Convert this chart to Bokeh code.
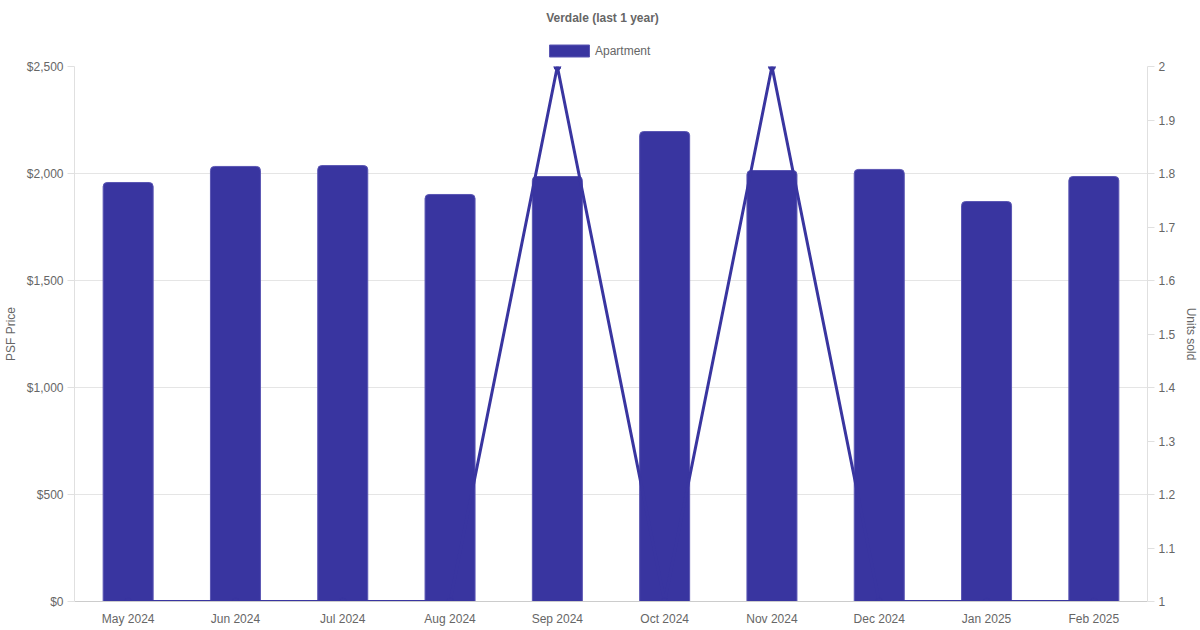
from bokeh.plotting import figure
from bokeh.models import (Range1d, LinearAxis, FixedTicker, Legend, LegendItem,
                          ColumnDataSource, FactorRange)
from bokeh.layouts import column
from bokeh.embed import file_html
from bokeh.resources import INLINE

# ---- data ----
months = ["May 2024", "Jun 2024", "Jul 2024", "Aug 2024", "Sep 2024",
          "Oct 2024", "Nov 2024", "Dec 2024", "Jan 2025", "Feb 2025"]
psf_price = [1958, 2033, 2037, 1902, 1986, 2196, 2014, 2019, 1869, 1986]
units_sold = [1, 1, 1, 1, 2, 1, 2, 1, 1, 1]

price_ticks = [0, 500, 1000, 1500, 2000, 2500]
price_tick_labels = ["$0", "$500", "$1,000", "$1,500", "$2,000", "$2,500"]
unit_ticks = [1, 1.1, 1.2, 1.3, 1.4, 1.5, 1.6, 1.7, 1.8, 1.9, 2]
unit_tick_labels = ["1", "1.1", "1.2", "1.3", "1.4", "1.5", "1.6", "1.7", "1.8", "1.9", "2"]

title_text = "Verdale (last 1 year)"
series_name = "Apartment"

COLOR = "#3935A0"
EDGE = "#5a56b3"
TEXT = "#666666"
FONT = "Liberation Sans"

TOTAL_W = 1184
LEFT_B = 66
RIGHT_B = 45
FRAME_W = TOTAL_W - LEFT_B - RIGHT_B
FRAME_H = 535

# ---------------- header (title + legend) ----------------
hdr = figure(width=TOTAL_W, height=58, output_backend="svg",
             toolbar_location=None, x_range=Range1d(0, 1), y_range=Range1d(0, 1),
             min_border=0, min_border_top=25)
hdr.axis.visible = False
hdr.grid.grid_line_color = None
hdr.outline_line_color = None
hdr.title.text = title_text
hdr.title.align = "center"
hdr.title.vertical_align = "bottom"
hdr.title.text_font = FONT
hdr.title.text_font_size = "12px"
hdr.title.text_font_style = "bold"
hdr.title.text_color = TEXT
hdr.title.standoff = 2
# legend swatch renderer (its single bar lies outside the visible range)
swatch = hdr.vbar(x=[-5], top=[-5], width=0.5, fill_color=COLOR, line_color=EDGE)
legend = Legend(items=[LegendItem(label=series_name, renderers=[swatch])],
                orientation="horizontal", location=(470, 0),
                glyph_width=50, glyph_height=15,
                label_text_font=FONT, label_text_font_size="12px",
                label_text_color=TEXT, border_line_color=None,
                background_fill_alpha=0, padding=1, margin=0,
                label_standoff=1, label_height=12)
hdr.add_layout(legend, "center")

# ---------------- main chart ----------------
src = ColumnDataSource(dict(month=months, price=psf_price, units=units_sold))

p = figure(x_range=FactorRange(*months), y_range=Range1d(0, 2500),
           frame_width=FRAME_W, frame_height=FRAME_H,
           output_backend="svg", toolbar_location=None,
           min_border_left=LEFT_B, min_border_right=RIGHT_B, min_border_top=8,
           min_border_bottom=10)
p.extra_y_ranges = {"units": Range1d(1, 2)}
p.x_range.range_padding = 0.0

p.vbar(x="month", top="price", width=0.466, source=src,
       fill_color=COLOR, line_color=EDGE, line_width=1,
       border_radius=(4, 4, 0, 0))
p.line(x="month", y="units", source=src, y_range_name="units",
       line_color=COLOR, line_width=3)
p.scatter(x="month", y="units", source=src, y_range_name="units",
          size=7, marker="circle", fill_color=COLOR, line_color=COLOR)

# grid
p.xgrid.grid_line_color = None
p.ygrid.grid_line_color = "#e5e5e5"
p.ygrid.ticker = FixedTicker(ticks=price_ticks)
p.outline_line_color = None

# left axis
ya = p.yaxis[0]
ya.ticker = FixedTicker(ticks=price_ticks)
ya.major_label_overrides = dict(zip(price_ticks, price_tick_labels))
ya.axis_label = "PSF Price"

# right axis
ra = LinearAxis(y_range_name="units", axis_label="Units sold",
                ticker=FixedTicker(ticks=unit_ticks))
ra.major_label_overrides = dict(zip(unit_ticks, unit_tick_labels))
p.add_layout(ra, "right")

for ax in (ya, ra):
    ax.axis_line_color = "#e0e0e0"
    ax.major_tick_line_color = "#e0e0e0"
    ax.major_tick_out = 7
    ax.major_tick_in = 0
    ax.minor_tick_line_color = None
    ax.major_label_standoff = 4
    ax.axis_label_standoff = 6

xa = p.xaxis[0]
xa.axis_line_color = "#cccccc"
xa.major_tick_line_color = None
xa.major_tick_out = 0
xa.major_tick_in = 0
xa.minor_tick_line_color = None
xa.minor_tick_out = 0
xa.major_label_standoff = 10

for ax in (ya, ra, xa):
    ax.major_label_text_font = FONT
    ax.major_label_text_font_size = "12px"
    ax.major_label_text_color = TEXT
    ax.axis_label_text_font = FONT
    ax.axis_label_text_font_size = "12px"
    ax.axis_label_text_color = TEXT
    ax.axis_label_text_font_style = "normal"

layout = column(hdr, p, spacing=0)
open("out.html", "w").write(file_html(layout, INLINE))
